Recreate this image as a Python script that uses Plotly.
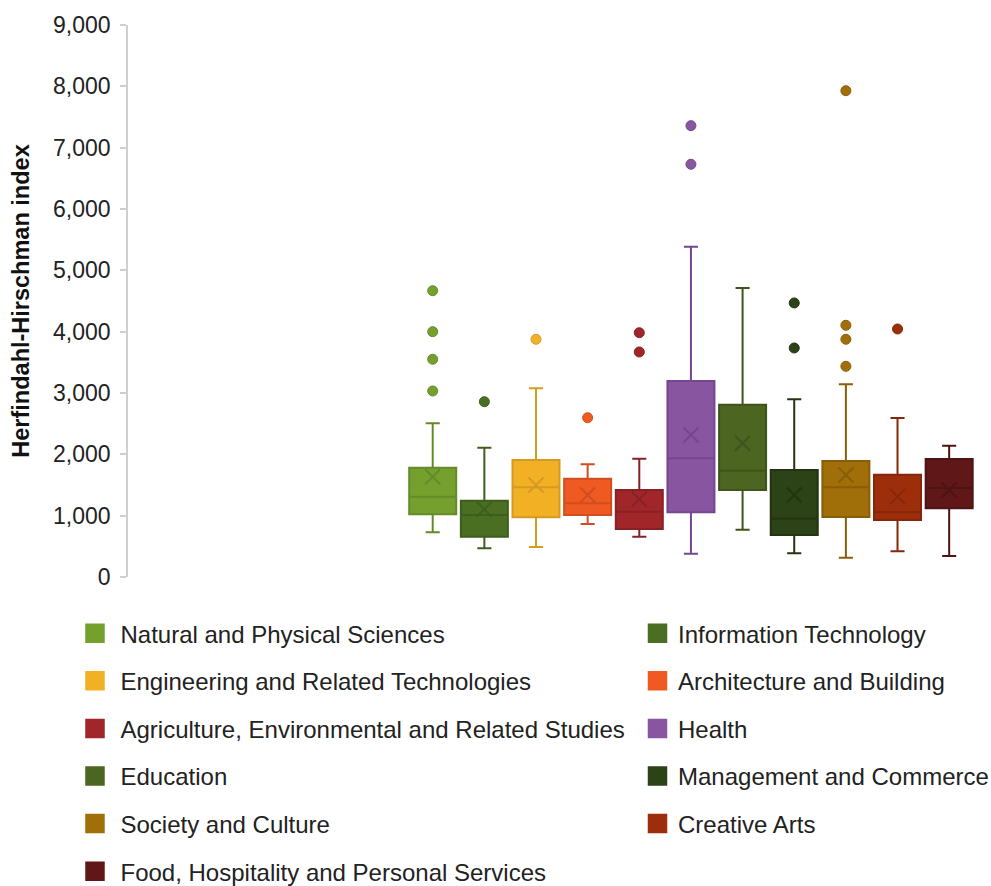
import plotly.graph_objects as go

# Fields of education and their HHI distribution summaries
categories = [
    "Natural and Physical Sciences",
    "Information Technology",
    "Engineering and Related Technologies",
    "Architecture and Building",
    "Agriculture, Environmental and Related Studies",
    "Health",
    "Education",
    "Management and Commerce",
    "Society and Culture",
    "Creative Arts",
    "Food, Hospitality and Personal Services",
]
lower_whisker = [729, 468, 489, 864, 657, 380, 772, 386, 315, 419, 342]
q1 = [1022, 657, 973, 1011, 783, 1055, 1419, 685, 978, 929, 1120]
median = [1309, 1011, 1463, 1202, 1065, 1935, 1733, 951, 1463, 1060, 1451]
q3 = [1782, 1244, 1908, 1603, 1419, 3196, 2810, 1745, 1891, 1668, 1924]
upper_whisker = [2506, 2108, 3077, 1838, 1929, 5386, 4712, 2897, 3142, 2593, 2141]
mean = [1635, 1104, 1500, 1337, 1267, 2315, 2180, 1337, 1663, 1310, 1419]
outliers = [
    [4668, 4000, 3550, 3033],
    [2858],
    [3876],
    [2597],
    [3983, 3669],
    [7359, 6729],
    [],
    [4468, 3734],
    [7929, 4104, 3876, 3435],
    [4044],
    [],
]
fill_colors = [
    "#76A02E", "#4A6F23", "#F2B125", "#EF5A23", "#A1262A", "#8855A0",
    "#4C6520", "#2C4217", "#A06F09", "#9C2E0B", "#5F1718",
]
line_colors = [
    "#648A2A", "#3E5E1E", "#D49A22", "#D04E1F", "#862125", "#764690",
    "#3E541B", "#223412", "#885E08", "#84270A", "#4E1314",
]
# Legend column for each field (two-column legend)
legend_column = ["legend", "legend2", "legend", "legend2", "legend", "legend2",
                 "legend", "legend2", "legend", "legend2", "legend"]

FONT = "Liberation Sans, Arial, sans-serif"

fig = go.Figure()

for i, name in enumerate(categories):
    fig.add_trace(go.Box(
        x=[i],
        q1=[q1[i]], median=[median[i]], q3=[q3[i]],
        lowerfence=[lower_whisker[i]], upperfence=[upper_whisker[i]],
        boxmean=False,
        width=0.91,
        whiskerwidth=0.3,
        fillcolor=fill_colors[i],
        line=dict(color=line_colors[i], width=2),
        name=name,
        showlegend=False,
        boxpoints=False,
    ))
    # mean marker
    fig.add_trace(go.Scatter(
        x=[i], y=[mean[i]], mode="markers",
        marker=dict(symbol="x-thin", size=15,
                    line=dict(color=line_colors[i], width=2)),
        showlegend=False, hoverinfo="y",
    ))
    # outlier points
    if outliers[i]:
        fig.add_trace(go.Scatter(
            x=[i] * len(outliers[i]), y=outliers[i], mode="markers",
            marker=dict(symbol="circle", size=10, color=fill_colors[i],
                        line=dict(color=line_colors[i], width=1)),
            showlegend=False, hoverinfo="y",
        ))
    # legend entry
    fig.add_trace(go.Scatter(
        x=[None], y=[None], mode="markers", name=name,
        marker=dict(symbol="square", size=16, color=fill_colors[i],
                    line=dict(color=fill_colors[i], width=3.5)),
        legend=legend_column[i], legendgroup=name,
    ))

legend_style = dict(
    orientation="v",
    yanchor="top",
    xanchor="left",
    font=dict(family=FONT, size=24, color="#222222"),
    tracegroupgap=13.4,
    bgcolor="rgba(0,0,0,0)",
    borderwidth=0,
    itemclick=False,
)

fig.update_layout(
    width=991,
    height=886,
    margin=dict(l=128, r=0, t=25, b=309, autoexpand=False),
    paper_bgcolor="white",
    plot_bgcolor="white",
    font=dict(family=FONT, color="#222222"),
    boxmode="overlay",
    xaxis=dict(
        range=[-5.9, 10.81],
        visible=False,
    ),
    yaxis=dict(
        range=[0, 9000],
        dtick=1000,
        tickformat=",",
        showgrid=False,
        zeroline=False,
        showline=True,
        linecolor="#CFCFCF",
        linewidth=1.5,
        ticks="outside",
        ticklen=6,
        tickwidth=1.5,
        tickcolor="#CFCFCF",
        ticklabelstandoff=5,
        tickfont=dict(family=FONT, size=23, color="#222222"),
        title=dict(
            text="<b>Herfindahl-Hirschman index</b>",
            font=dict(family=FONT, size=23.5, color="#111111"),
            standoff=17,
        ),
    ),
    legend=dict(x=-0.0678, y=-0.0618, itemwidth=41, **legend_style),
    legend2=dict(x=0.5898, y=-0.0618, itemwidth=31, **legend_style),
)

fig.write_html("out.html")
